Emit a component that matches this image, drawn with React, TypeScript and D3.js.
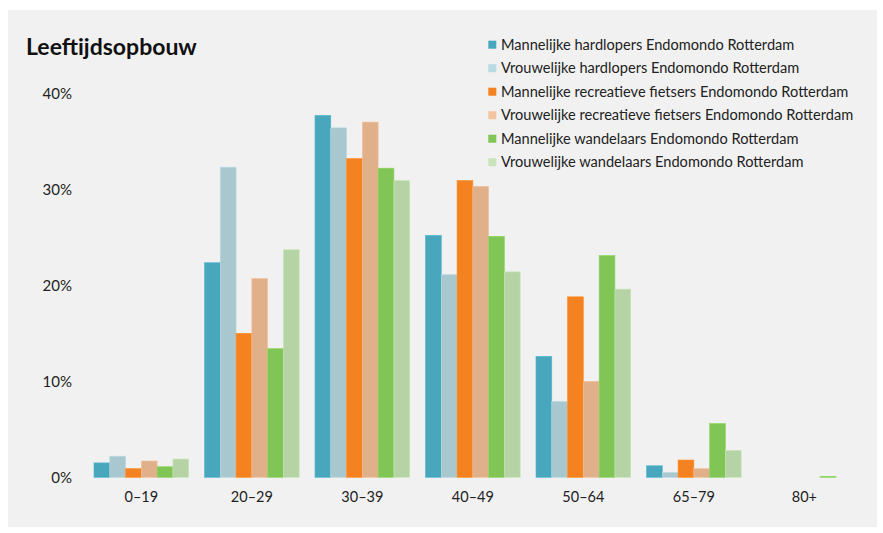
import React from "react";
import * as d3 from "d3";

const categories = ["0–19", "20–29", "30–39", "40–49", "50–64", "65–79", "80+"];
const seriesNames = [
  "Mannelijke hardlopers Endomondo Rotterdam",
  "Vrouwelijke hardlopers Endomondo Rotterdam",
  "Mannelijke recreatieve fietsers Endomondo Rotterdam",
  "Vrouwelijke recreatieve fietsers Endomondo Rotterdam",
  "Mannelijke wandelaars Endomondo Rotterdam",
  "Vrouwelijke wandelaars Endomondo Rotterdam",
];
const menRunners = [1.5, 22.35, 37.7, 25.2, 12.6, 1.2, 0];
const womenRunners = [2.2, 32.3, 36.4, 21.1, 7.9, 0.5, 0];
const menCyclists = [0.9, 15.0, 33.2, 30.9, 18.8, 1.8, 0];
const womenCyclists = [1.7, 20.7, 37.0, 30.3, 10.0, 0.9, 0];
const menWalkers = [1.1, 13.4, 32.2, 25.1, 23.1, 5.6, 0.1];
const womenWalkers = [1.9, 23.7, 30.9, 21.4, 19.6, 2.8, 0];
const seriesValues = [menRunners, womenRunners, menCyclists, womenCyclists, menWalkers, womenWalkers];
const barColors = ["#48a7bd", "#a8c7ce", "#f58220", "#e0b08a", "#80c556", "#b6d3a5"];
const legendColors = ["#48a7bd", "#b8dbe2", "#f58220", "#f4c4a0", "#80c556", "#c9e4bb"];
const yTicks = [0, 10, 20, 30, 40];

const font = "Lato, 'Open Sans', sans-serif";

export default function App() {
  const W = 883, H = 533;
  const x0 = d3.scaleBand<string>().domain(categories).range([86.1, 859.6]).paddingInner(1 / 7).paddingOuter(1 / 14);
  const x1 = d3.scaleBand<number>().domain(d3.range(seriesNames.length)).range([0, x0.bandwidth()]).padding(0);
  const y = d3.scaleLinear().domain([0, 40]).range([477.3, 93.3]);

  return (
    <svg width={W} height={H} style={{ position: "absolute", left: 0, top: 0 }}>
      <rect x={0} y={0} width={W} height={H} fill="#ffffff" />
      <rect x={8} y={10} width={869} height={517} fill="#f1f1f1" />
      <text x={26} y={55} fontFamily={font} fontWeight={700} fontSize={23} fill="#111">Leeftijdsopbouw</text>
      {yTicks.map((t) => (
        <text key={t} x={72} y={y(t)} dy="0.35em" textAnchor="end" fontFamily={font} fontSize={15} fill="#222">{t}%</text>
      ))}
      {categories.map((c, ci) => (
        <g key={c} transform={`translate(${x0(c)},0)`}>
          {seriesValues.map((vals, si) => {
            const v = vals[ci];
            if (v <= 0) return null;
            const top = y(v);
            const h = Math.max(y(0) - top, 1);
            return (
              <rect key={si} x={x1(si)} y={y(0) - h} width={x1.bandwidth()} height={h} fill={barColors[si]}
                stroke={d3.color(barColors[si])!.brighter(0.25).toString()} strokeWidth={0.6} />
            );
          })}
          <text x={x0.bandwidth() / 2} y={502} textAnchor="middle" fontFamily={font} fontSize={14.5} fill="#222">{c}</text>
        </g>
      ))}
      {seriesNames.map((n, i) => {
        const cy = 44.7 + i * 23.5;
        return (
          <g key={n}>
            <rect x={488.3} y={cy - 4} width={8} height={8} fill={legendColors[i]} />
            <text x={501} y={cy} dy="0.35em" fontFamily={font} fontSize={14.6} fill="#222">{n}</text>
          </g>
        );
      })}
    </svg>
  );
}
